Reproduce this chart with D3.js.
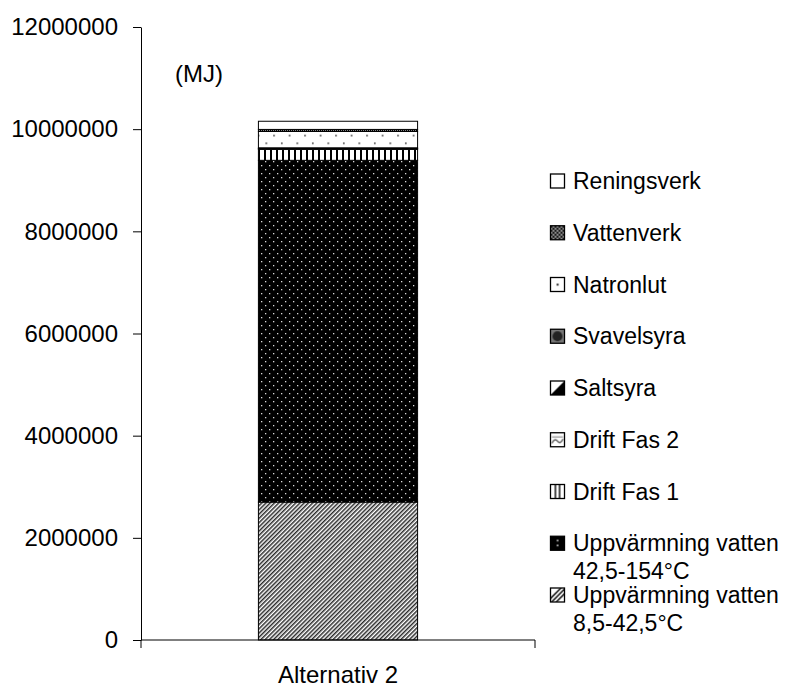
<!DOCTYPE html>
<html>
<head>
<meta charset="utf-8">
<script src="https://cdn.jsdelivr.net/npm/d3@7"></script>
<style>
  html, body { margin: 0; padding: 0; background: #fff; }
  svg { display: block; font-family: "Liberation Sans", Arial, sans-serif; }
</style>
</head>
<body>
<svg id="chart" width="794" height="687"></svg>
<script>
// Energy use per component, stacked bottom-to-top (MJ)
const categories = ["Alternativ 2"];
const seriesNames = [
  "Uppvärmning vatten 8,5-42,5°C",
  "Uppvärmning vatten 42,5-154°C",
  "Drift Fas 1",
  "Drift Fas 2",
  "Saltsyra",
  "Svavelsyra",
  "Natronlut",
  "Vattenverk",
  "Reningsverk"
];
const seriesValues = [2700000, 6690000, 215000, 10000, 5000, 15000, 320000, 40000, 160000];
// Legend text lines, listed top-to-bottom (reverse of stacking order)
const legendLines = [
  ["Reningsverk"],
  ["Vattenverk"],
  ["Natronlut"],
  ["Svavelsyra"],
  ["Saltsyra"],
  ["Drift Fas 2"],
  ["Drift Fas 1"],
  ["Uppvärmning vatten", "42,5-154°C"],
  ["Uppvärmning vatten", "8,5-42,5°C"]
];
const yTicks = [0, 2000000, 4000000, 6000000, 8000000, 10000000, 12000000];
const unitLabel = "(MJ)";

const svg = d3.select("#chart");
const defs = svg.append("defs");

// ---- fill patterns used by the bar segments ----
function tile(id, w, h, draw, transform) {
  const p = defs.append("pattern").attr("id", id)
    .attr("patternUnits", "userSpaceOnUse").attr("width", w).attr("height", h);
  if (transform) p.attr("patternTransform", transform);
  draw(p);
}
// 0: fine upward diagonal hatch
tile("p0", 3, 3, p => {
  p.append("rect").attr("width", 3).attr("height", 3).attr("fill", "#fff");
  p.append("rect").attr("width", 1.5).attr("height", 3).attr("fill", "#2a2a2a");
}, "rotate(45)");
// 1: black with small light dots
tile("p1", 8, 8, p => {
  p.append("rect").attr("width", 8).attr("height", 8).attr("fill", "#000");
  p.append("rect").attr("x", 1).attr("y", 1).attr("width", 1.3).attr("height", 1.3).attr("fill", "#d8d8d8");
  p.append("rect").attr("x", 5).attr("y", 5).attr("width", 1.3).attr("height", 1.3).attr("fill", "#d8d8d8");
});
// 2: white with vertical bars
tile("p2", 6, 6, p => {
  p.append("rect").attr("width", 6).attr("height", 6).attr("fill", "#fff");
  p.append("rect").attr("width", 2).attr("height", 6).attr("fill", "#000");
});
// 3: wave
tile("p3", 6, 6, p => {
  p.append("rect").attr("width", 6).attr("height", 6).attr("fill", "#fff");
  p.append("path").attr("d", "M0,4 L3,1 L6,4").attr("fill", "none").attr("stroke", "#555").attr("stroke-width", 1);
});
// 4: wide diagonal
tile("p4", 6, 6, p => {
  p.append("rect").attr("width", 6).attr("height", 6).attr("fill", "#fff");
  p.append("rect").attr("width", 3).attr("height", 6).attr("fill", "#000");
}, "rotate(45)");
// 5: dark with light dots
tile("p5", 3, 3, p => {
  p.append("rect").attr("width", 3).attr("height", 3).attr("fill", "#222");
  p.append("rect").attr("x", 1).attr("y", 1).attr("width", 1).attr("height", 1).attr("fill", "#999");
});
// 6: white with sparse dark dots
tile("p6", 15.5, 15.5, p => {
  p.append("rect").attr("width", 15.5).attr("height", 15.5).attr("fill", "#fff");
  p.append("rect").attr("x", 2).attr("y", 3).attr("width", 1.6).attr("height", 1.6).attr("fill", "#444");
  p.append("rect").attr("x", 9.75).attr("y", 10.75).attr("width", 1.6).attr("height", 1.6).attr("fill", "#444");
});
// 7: dark checker
tile("p7", 2, 2, p => {
  p.append("rect").attr("width", 2).attr("height", 2).attr("fill", "#888");
  p.append("rect").attr("width", 1).attr("height", 1).attr("fill", "#000");
  p.append("rect").attr("x", 1).attr("y", 1).attr("width", 1).attr("height", 1).attr("fill", "#000");
});
// 8: plain white
tile("p8", 4, 4, p => {
  p.append("rect").attr("width", 4).attr("height", 4).attr("fill", "#fff");
});

// ---- legend icons (one tile per swatch) ----
function icon(id, draw) {
  const p = defs.append("pattern").attr("id", id)
    .attr("patternUnits", "objectBoundingBox").attr("patternContentUnits", "objectBoundingBox")
    .attr("width", 1).attr("height", 1);
  p.append("rect").attr("width", 1).attr("height", 1).attr("fill", "#fff");
  draw(p);
}
icon("i0", p => {
  [0.05, 0.38, 0.71].forEach(o => p.append("path")
    .attr("d", `M${o - 0.3},1 L${o + 0.7},0`).attr("stroke", "#222").attr("stroke-width", 0.12));
});
icon("i1", p => {
  p.append("rect").attr("width", 1).attr("height", 1).attr("fill", "#000");
  p.append("rect").attr("x", 0.45).attr("y", 0.25).attr("width", 0.12).attr("height", 0.12).attr("fill", "#ccc");
  p.append("rect").attr("x", 0.45).attr("y", 0.6).attr("width", 0.12).attr("height", 0.12).attr("fill", "#ccc");
});
icon("i2", p => {
  p.append("rect").attr("x", 0.3).attr("width", 0.1).attr("height", 1).attr("fill", "#000");
  p.append("rect").attr("x", 0.6).attr("width", 0.1).attr("height", 1).attr("fill", "#000");
});
icon("i3", p => {
  p.append("path").attr("d", "M0.1,0.75 Q0.3,0.35 0.5,0.6 Q0.7,0.85 0.9,0.45")
    .attr("fill", "none").attr("stroke", "#555").attr("stroke-width", 0.1);
  p.append("path").attr("d", "M0.1,0.3 L0.9,0.3").attr("stroke", "#888").attr("stroke-width", 0.08);
});
icon("i4", p => {
  p.append("path").attr("d", "M1,0 L1,1 L0,1 Z").attr("fill", "#000");
});
icon("i5", p => {
  p.append("rect").attr("width", 1).attr("height", 1).attr("fill", "#777");
  p.append("circle").attr("cx", 0.5).attr("cy", 0.5).attr("r", 0.36).attr("fill", "#222");
});
icon("i6", p => {
  p.append("rect").attr("x", 0.44).attr("y", 0.44).attr("width", 0.14).attr("height", 0.14).attr("fill", "#222");
});
icon("i7", p => {
  // fine checkerboard in unit coordinates
  p.append("rect").attr("width", 1).attr("height", 1).attr("fill", "#8a8a8a");
  const n = 7;
  d3.range(n).forEach(r => d3.range(n).forEach(c => {
    if ((r + c) % 2 === 0) {
      p.append("rect").attr("x", c / n).attr("y", r / n)
        .attr("width", 1 / n).attr("height", 1 / n).attr("fill", "#1a1a1a");
    }
  }));
});
icon("i8", p => {});

// ---- layout ----
const x = d3.scaleBand().domain(categories).range([141, 535])
  .paddingInner(0.596).paddingOuter(0.298);
const y = d3.scaleLinear().domain([0, 12000000]).range([640, 27]);

// stacked segments
const stackRows = categories.map(c => {
  const row = { category: c };
  seriesNames.forEach((s, i) => row[s] = seriesValues[i]);
  return row;
});
const stacked = d3.stack().keys(seriesNames)(stackRows);

const bars = svg.append("g");
stacked.forEach((layer, i) => {
  bars.selectAll(null).data(layer).join("rect")
    .attr("x", d => x(d.data.category))
    .attr("width", x.bandwidth())
    .attr("y", d => y(d[1]))
    .attr("height", d => y(d[0]) - y(d[1]))
    .attr("fill", `url(#p${i})`)
    .attr("stroke", "#000")
    .attr("stroke-width", 1);
});

// y axis
const yAxis = svg.append("g").attr("transform", "translate(141,0)")
  .call(d3.axisLeft(y).tickValues(yTicks).tickFormat(d3.format("d"))
    .tickSize(8).tickSizeOuter(0).tickPadding(15));
yAxis.select(".domain").attr("stroke", "#000");
yAxis.selectAll(".tick line").attr("stroke", "#000");
yAxis.selectAll(".tick text").attr("font-size", 24).attr("fill", "#000")
  .attr("font-family", "'Liberation Sans', Arial, sans-serif");

// x axis with ticks on category boundaries
const xr = x.range();
const xAxis = svg.append("g");
xAxis.append("line").attr("x1", xr[0]).attr("x2", xr[1])
  .attr("y1", y(0)).attr("y2", y(0)).attr("stroke", "#000");
xAxis.selectAll(".bound").data(xr).join("line")
  .attr("x1", d => d).attr("x2", d => d)
  .attr("y1", y(0)).attr("y2", y(0) + 8).attr("stroke", "#000");
xAxis.selectAll(".cat").data(categories).join("text")
  .attr("x", d => x(d) + x.bandwidth() / 2)
  .attr("y", 683)
  .attr("text-anchor", "middle").attr("font-size", 24).attr("fill", "#000")
  .text(d => d);

// unit label
svg.append("text").attr("x", 175).attr("y", 82)
  .attr("font-size", 24).attr("fill", "#000").text(unitLabel);

// legend
const legendCenters = d3.range(legendLines.length).map(i => 181 + i * 51.75);
const legend = svg.append("g");
legendLines.forEach((lines, j) => {
  const si = seriesNames.length - 1 - j;
  const cy = legendCenters[j];
  legend.append("rect")
    .attr("x", 550.5).attr("y", cy - 7).attr("width", 14).attr("height", 14)
    .attr("fill", `url(#i${si})`).attr("stroke", "#000").attr("stroke-width", 1.3);
  const t = legend.append("text").attr("x", 573).attr("y", cy + 8)
    .attr("font-size", 23).attr("fill", "#000");
  lines.forEach((ln, k) => {
    t.append("tspan").attr("x", 573).attr("dy", k === 0 ? 0 : 28).text(ln);
  });
});
</script>
</body>
</html>
